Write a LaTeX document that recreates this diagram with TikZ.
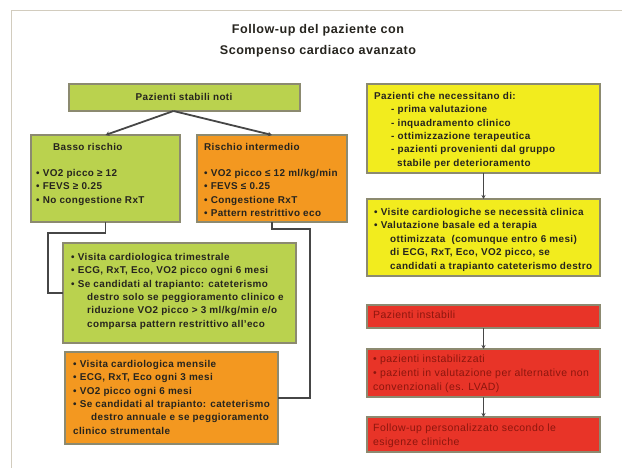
\documentclass[tikz,border=0pt]{standalone}
\usepackage{fontspec}
\setmainfont{Liberation Sans}[LetterSpace=4]
\usetikzlibrary{arrows.meta}

\definecolor{boxgreen}{RGB}{186,210,78}
\definecolor{boxorange}{RGB}{243,152,32}
\definecolor{boxyellow}{RGB}{242,236,30}
\definecolor{boxred}{RGB}{232,52,40}
\definecolor{boxedge}{RGB}{140,138,112}
\definecolor{textdark}{RGB}{38,36,30}
\definecolor{textred}{RGB}{140,22,14}
\definecolor{linkgray}{RGB}{70,70,70}
\definecolor{framegray}{RGB}{210,204,190}

\begin{document}
\begin{tikzpicture}[x=1pt,y=-1pt,
  panel/.style={draw=boxedge, line width=1.1pt, anchor=north west,
                inner sep=0pt, outer sep=0pt},
  body/.style={anchor=north west, inner sep=0pt, align=left, text=textdark,
               font=\bfseries\fontsize{9.9}{13.4}\selectfont},
  redbody/.style={body, text=textred, font=\fontsize{10.5}{14}\selectfont},
  heading/.style={inner sep=0pt, align=center, text=textdark,
               font=\bfseries\fontsize{12.6}{21}\selectfont},
  fork/.style={draw=linkgray, line width=1.8pt, -{Stealth[length=4pt,width=4.5pt]}},
  elbow/.style={draw=linkgray, line width=1.3pt},
  down/.style={draw=linkgray, line width=1.4pt, -{Stealth[length=4pt,width=4pt]}}
]
\useasboundingbox (0,0) rectangle (622,468);
\fill[white] (0,0) rectangle (622,468);

% page frame
\draw[framegray, line width=1pt] (11,468) -- (11,11) -- (622,11);

% title
\node[heading] (title) at (318,41) {Follow-up del paziente con\\Scompenso cardiaco avanzato};

% stable patients branch
\node[panel, fill=boxgreen, minimum width=231pt, minimum height=27pt] (stabili) at (69,84) {};
\node[body, anchor=center] (stabiliT) at (184,97) {Pazienti stabili noti};

\node[panel, fill=boxgreen, minimum width=149pt, minimum height=87pt] (basso) at (31,135) {};
\node[body] (bassoT) at (53,143) {Basso rischio};
\node[body] (bassoL) at (36,169) {• VO2 picco ≥ 12\\• FEVS ≥ 0.25\\• No congestione RxT};

\node[panel, fill=boxorange, minimum width=150pt, minimum height=87pt] (interm) at (197,135) {};
\node[body] (intermT) at (204,143) {Rischio intermedio};
\node[body] (intermL) at (204,169) {• VO2 picco ≤ 12 ml/kg/min\\• FEVS ≤ 0.25\\• Congestione RxT\\• Pattern restrittivo eco};

\node[panel, fill=boxgreen, minimum width=233pt, minimum height=100pt] (lowfu) at (63,243) {};
\node[body] (lowfuL) at (71,253) {• Visita cardiologica trimestrale\\
• ECG, RxT, Eco, VO2 picco ogni 6 mesi\\
• Se candidati al trapianto: cateterismo\\
\hspace{16pt}destro solo se peggioramento clinico e\\
\hspace{16pt}riduzione VO2 picco > 3 ml/kg/min e/o\\
\hspace{16pt}comparsa pattern restrittivo all'eco};

\node[panel, fill=boxorange, minimum width=213pt, minimum height=92pt] (midfu) at (65,352) {};
\node[body] (midfuL) at (73,360) {• Visita cardiologica mensile\\
• ECG, RxT, Eco ogni 3 mesi\\
• VO2 picco ogni 6 mesi\\
• Se candidati al trapianto: cateterismo\\
\hspace{18pt}destro annuale e se peggioramento\\
clinico strumentale};

% patients needing assessment
\node[panel, fill=boxyellow, minimum width=233pt, minimum height=89pt] (needs) at (367,84) {};
\node[body] (needsL) at (374,92) {Pazienti che necessitano di:\\
\hspace{17pt}- prima valutazione\\
\hspace{17pt}- inquadramento clinico\\
\hspace{17pt}- ottimizzazione terapeutica\\
\hspace{17pt}- pazienti provenienti dal gruppo\\
\hspace{23pt}stabile per deterioramento};

\node[panel, fill=boxyellow, minimum width=233pt, minimum height=77pt] (needsfu) at (367,199) {};
\node[body] (needsfuL) at (374,208) {• Visite cardiologiche se necessità clinica\\
• Valutazione basale ed a terapia\\
\hspace{16pt}ottimizzata\ \ (comunque entro 6 mesi)\\
\hspace{16pt}di ECG, RxT, Eco, VO2 picco, se\\
\hspace{16pt}candidati a trapianto cateterismo destro};

% unstable patients
\node[panel, fill=boxred, minimum width=233pt, minimum height=23pt] (instab) at (367,305) {};
\node[redbody] (instabL) at (373,311) {Pazienti instabili};

\node[panel, fill=boxred, minimum width=233pt, minimum height=48pt] (instabC) at (367,349) {};
\node[redbody] (instabCL) at (373,355) {• pazienti instabilizzati\\
• pazienti in valutazione per alternative non\\
convenzionali (es. LVAD)};

\node[panel, fill=boxred, minimum width=233pt, minimum height=35pt] (instabF) at (367,417) {};
\node[redbody] (instabFL) at (373,424) {Follow-up personalizzato secondo le\\esigenze cliniche};

% connectors
\draw[fork] ([xshift=-11pt]stabili.south) -- (basso.north);
\draw[fork] ([xshift=-11pt]stabili.south) -- (interm.north);
\draw[elbow] (basso.south) -- ++(0,11) -| ([xshift=-15pt]lowfu.west) -- (lowfu.west);
\draw[elbow] (interm.south) -- ++(0,7) -| ([xshift=32pt]midfu.east) -- (midfu.east);
\draw[down] (needs.south) -- (needsfu.north);
\draw[down] (instab.south) -- (instabC.north);
\draw[down] (instabC.south) -- (instabF.north);
\end{tikzpicture}
\end{document}
